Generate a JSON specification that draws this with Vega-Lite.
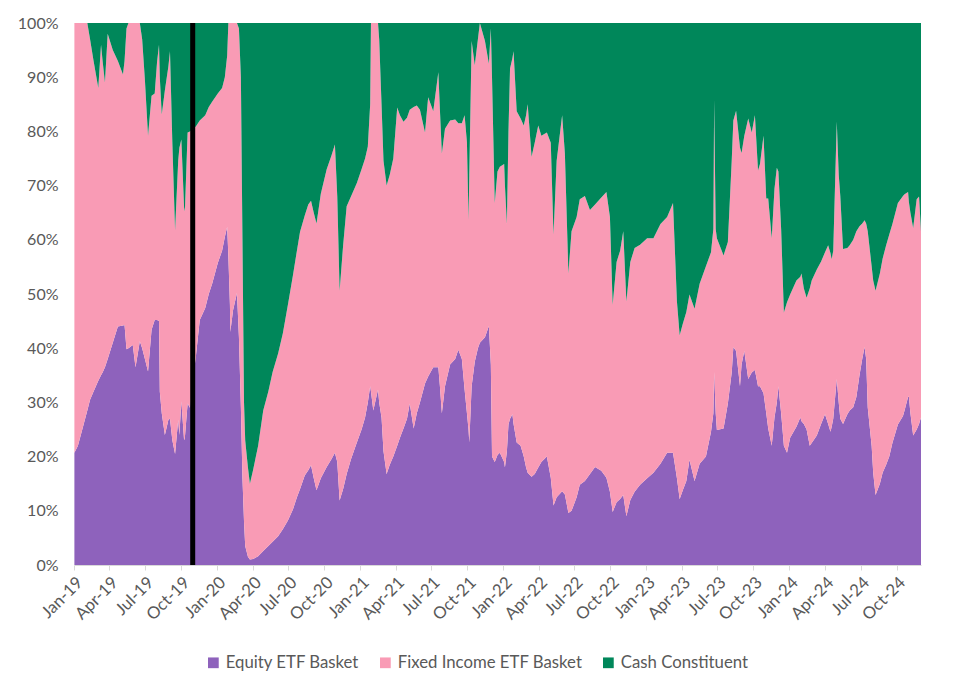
{
"$schema":"https://vega.github.io/schema/vega-lite/v6.json",
"width":847,"height":542,
"autosize":{"type":"none"},
"padding":{"left":74,"top":23,"right":40,"bottom":127},
"background":"white",
"config":{"view":{"stroke":null},"font":"Lato"},
"datasets":{
"seriesinfo":[
{"series":"Equity ETF Basket","o":1},
{"series":"Fixed Income ETF Basket","o":2},
{"series":"Cash Constituent","o":3}
],
"shares":[
{"d":"2019-01-02","Equity ETF Basket":20.7,"Fixed Income ETF Basket":79.3,"Cash Constituent":0},
{"d":"2019-01-11","Equity ETF Basket":22,"Fixed Income ETF Basket":78,"Cash Constituent":0},
{"d":"2019-01-24","Equity ETF Basket":25.5,"Fixed Income ETF Basket":74.5,"Cash Constituent":0},
{"d":"2019-02-04","Equity ETF Basket":28.5,"Fixed Income ETF Basket":71.5,"Cash Constituent":0},
{"d":"2019-02-11","Equity ETF Basket":30.5,"Fixed Income ETF Basket":66.5,"Cash Constituent":3},
{"d":"2019-02-20","Equity ETF Basket":32,"Fixed Income ETF Basket":61,"Cash Constituent":7},
{"d":"2019-03-04","Equity ETF Basket":34,"Fixed Income ETF Basket":54,"Cash Constituent":12},
{"d":"2019-03-11","Equity ETF Basket":35,"Fixed Income ETF Basket":61,"Cash Constituent":4},
{"d":"2019-03-15","Equity ETF Basket":35.5,"Fixed Income ETF Basket":57.5,"Cash Constituent":7},
{"d":"2019-03-21","Equity ETF Basket":36.5,"Fixed Income ETF Basket":52.5,"Cash Constituent":11},
{"d":"2019-03-28","Equity ETF Basket":38,"Fixed Income ETF Basket":60,"Cash Constituent":2},
{"d":"2019-04-10","Equity ETF Basket":41,"Fixed Income ETF Basket":54,"Cash Constituent":5},
{"d":"2019-04-23","Equity ETF Basket":44,"Fixed Income ETF Basket":49,"Cash Constituent":7},
{"d":"2019-05-06","Equity ETF Basket":44.2,"Fixed Income ETF Basket":46.3,"Cash Constituent":9.5},
{"d":"2019-05-10","Equity ETF Basket":44.3,"Fixed Income ETF Basket":48.7,"Cash Constituent":7},
{"d":"2019-05-15","Equity ETF Basket":39.8,"Fixed Income ETF Basket":59.2,"Cash Constituent":1},
{"d":"2019-05-20","Equity ETF Basket":40,"Fixed Income ETF Basket":60,"Cash Constituent":0},
{"d":"2019-05-31","Equity ETF Basket":40.6,"Fixed Income ETF Basket":59.4,"Cash Constituent":0},
{"d":"2019-06-07","Equity ETF Basket":36.5,"Fixed Income ETF Basket":63.5,"Cash Constituent":0},
{"d":"2019-06-18","Equity ETF Basket":41.3,"Fixed Income ETF Basket":58.7,"Cash Constituent":0},
{"d":"2019-06-24","Equity ETF Basket":40,"Fixed Income ETF Basket":57,"Cash Constituent":3},
{"d":"2019-07-01","Equity ETF Basket":38,"Fixed Income ETF Basket":51.5,"Cash Constituent":10.5},
{"d":"2019-07-09","Equity ETF Basket":35.7,"Fixed Income ETF Basket":43.5,"Cash Constituent":20.8},
{"d":"2019-07-18","Equity ETF Basket":43.4,"Fixed Income ETF Basket":43.2,"Cash Constituent":13.4},
{"d":"2019-07-26","Equity ETF Basket":45.2,"Fixed Income ETF Basket":41.8,"Cash Constituent":13},
{"d":"2019-08-01","Equity ETF Basket":45.2,"Fixed Income ETF Basket":47.6,"Cash Constituent":7.2},
{"d":"2019-08-06","Equity ETF Basket":45,"Fixed Income ETF Basket":51,"Cash Constituent":4},
{"d":"2019-08-08","Equity ETF Basket":32,"Fixed Income ETF Basket":58,"Cash Constituent":10},
{"d":"2019-08-13","Equity ETF Basket":28,"Fixed Income ETF Basket":55.1,"Cash Constituent":16.9},
{"d":"2019-08-21","Equity ETF Basket":24,"Fixed Income ETF Basket":63.6,"Cash Constituent":12.4},
{"d":"2019-08-30","Equity ETF Basket":26.8,"Fixed Income ETF Basket":65.2,"Cash Constituent":8},
{"d":"2019-09-03","Equity ETF Basket":27,"Fixed Income ETF Basket":67.8,"Cash Constituent":5.2},
{"d":"2019-09-09","Equity ETF Basket":23,"Fixed Income ETF Basket":55,"Cash Constituent":22},
{"d":"2019-09-16","Equity ETF Basket":20.5,"Fixed Income ETF Basket":41.2,"Cash Constituent":38.3},
{"d":"2019-09-24","Equity ETF Basket":26.8,"Fixed Income ETF Basket":47.8,"Cash Constituent":25.4},
{"d":"2019-09-27","Equity ETF Basket":24,"Fixed Income ETF Basket":53,"Cash Constituent":23},
{"d":"2019-10-02","Equity ETF Basket":30.2,"Fixed Income ETF Basket":48.3,"Cash Constituent":21.5},
{"d":"2019-10-09","Equity ETF Basket":23,"Fixed Income ETF Basket":43,"Cash Constituent":34},
{"d":"2019-10-11","Equity ETF Basket":23.5,"Fixed Income ETF Basket":41.7,"Cash Constituent":34.8},
{"d":"2019-10-18","Equity ETF Basket":29.8,"Fixed Income ETF Basket":50,"Cash Constituent":20.2},
{"d":"2019-10-24","Equity ETF Basket":29,"Fixed Income ETF Basket":51,"Cash Constituent":20},
{"d":"2019-10-31","Equity ETF Basket":34,"Fixed Income ETF Basket":46.5,"Cash Constituent":19.5},
{"d":"2019-11-08","Equity ETF Basket":38.4,"Fixed Income ETF Basket":42.5,"Cash Constituent":19.1},
{"d":"2019-11-18","Equity ETF Basket":45.2,"Fixed Income ETF Basket":36.8,"Cash Constituent":18},
{"d":"2019-12-02","Equity ETF Basket":47.4,"Fixed Income ETF Basket":35.6,"Cash Constituent":17},
{"d":"2019-12-11","Equity ETF Basket":50,"Fixed Income ETF Basket":34.5,"Cash Constituent":15.5},
{"d":"2019-12-20","Equity ETF Basket":52,"Fixed Income ETF Basket":33.5,"Cash Constituent":14.5},
{"d":"2020-01-03","Equity ETF Basket":55.7,"Fixed Income ETF Basket":31.3,"Cash Constituent":13},
{"d":"2020-01-14","Equity ETF Basket":58,"Fixed Income ETF Basket":30,"Cash Constituent":12},
{"d":"2020-01-21","Equity ETF Basket":60.5,"Fixed Income ETF Basket":29.5,"Cash Constituent":10},
{"d":"2020-01-27","Equity ETF Basket":62.4,"Fixed Income ETF Basket":31.6,"Cash Constituent":6},
{"d":"2020-01-30","Equity ETF Basket":57,"Fixed Income ETF Basket":43,"Cash Constituent":0},
{"d":"2020-02-03","Equity ETF Basket":48,"Fixed Income ETF Basket":52,"Cash Constituent":0},
{"d":"2020-02-04","Equity ETF Basket":43,"Fixed Income ETF Basket":57,"Cash Constituent":0},
{"d":"2020-02-11","Equity ETF Basket":47,"Fixed Income ETF Basket":53,"Cash Constituent":0},
{"d":"2020-02-21","Equity ETF Basket":50.2,"Fixed Income ETF Basket":49.8,"Cash Constituent":0},
{"d":"2020-02-26","Equity ETF Basket":42,"Fixed Income ETF Basket":57,"Cash Constituent":1},
{"d":"2020-03-02","Equity ETF Basket":29,"Fixed Income ETF Basket":61,"Cash Constituent":10},
{"d":"2020-03-06","Equity ETF Basket":16,"Fixed Income ETF Basket":44,"Cash Constituent":40},
{"d":"2020-03-10","Equity ETF Basket":8,"Fixed Income ETF Basket":22,"Cash Constituent":70},
{"d":"2020-03-13","Equity ETF Basket":3.5,"Fixed Income ETF Basket":19.5,"Cash Constituent":77},
{"d":"2020-03-20","Equity ETF Basket":1.5,"Fixed Income ETF Basket":16.5,"Cash Constituent":82},
{"d":"2020-03-25","Equity ETF Basket":1,"Fixed Income ETF Basket":14,"Cash Constituent":85},
{"d":"2020-04-02","Equity ETF Basket":1.1,"Fixed Income ETF Basket":16.4,"Cash Constituent":82.5},
{"d":"2020-04-15","Equity ETF Basket":1.6,"Fixed Income ETF Basket":20.4,"Cash Constituent":78},
{"d":"2020-04-28","Equity ETF Basket":2.6,"Fixed Income ETF Basket":25.9,"Cash Constituent":71.5},
{"d":"2020-05-11","Equity ETF Basket":3.5,"Fixed Income ETF Basket":28.5,"Cash Constituent":68},
{"d":"2020-05-22","Equity ETF Basket":4.3,"Fixed Income ETF Basket":31.3,"Cash Constituent":64.4},
{"d":"2020-06-05","Equity ETF Basket":5.3,"Fixed Income ETF Basket":33.7,"Cash Constituent":61},
{"d":"2020-06-17","Equity ETF Basket":6.6,"Fixed Income ETF Basket":36.1,"Cash Constituent":57.3},
{"d":"2020-06-30","Equity ETF Basket":8.2,"Fixed Income ETF Basket":39.8,"Cash Constituent":52},
{"d":"2020-07-13","Equity ETF Basket":10.3,"Fixed Income ETF Basket":43.2,"Cash Constituent":46.5},
{"d":"2020-07-23","Equity ETF Basket":12.5,"Fixed Income ETF Basket":45.5,"Cash Constituent":42},
{"d":"2020-07-31","Equity ETF Basket":14,"Fixed Income ETF Basket":47.5,"Cash Constituent":38.5},
{"d":"2020-08-12","Equity ETF Basket":16.5,"Fixed Income ETF Basket":48,"Cash Constituent":35.5},
{"d":"2020-08-21","Equity ETF Basket":17.5,"Fixed Income ETF Basket":49,"Cash Constituent":33.5},
{"d":"2020-08-28","Equity ETF Basket":18.4,"Fixed Income ETF Basket":48.8,"Cash Constituent":32.8},
{"d":"2020-09-04","Equity ETF Basket":16,"Fixed Income ETF Basket":49,"Cash Constituent":35},
{"d":"2020-09-11","Equity ETF Basket":13.8,"Fixed Income ETF Basket":49.2,"Cash Constituent":37},
{"d":"2020-09-22","Equity ETF Basket":16,"Fixed Income ETF Basket":52.5,"Cash Constituent":31.5},
{"d":"2020-10-07","Equity ETF Basket":18.1,"Fixed Income ETF Basket":54.9,"Cash Constituent":27},
{"d":"2020-10-19","Equity ETF Basket":19.5,"Fixed Income ETF Basket":56,"Cash Constituent":24.5},
{"d":"2020-10-28","Equity ETF Basket":20.7,"Fixed Income ETF Basket":56.9,"Cash Constituent":22.4},
{"d":"2020-11-03","Equity ETF Basket":19,"Fixed Income ETF Basket":49,"Cash Constituent":32},
{"d":"2020-11-09","Equity ETF Basket":11.9,"Fixed Income ETF Basket":38.7,"Cash Constituent":49.4},
{"d":"2020-11-18","Equity ETF Basket":14,"Fixed Income ETF Basket":45,"Cash Constituent":41},
{"d":"2020-11-27","Equity ETF Basket":16.8,"Fixed Income ETF Basket":49.4,"Cash Constituent":33.8},
{"d":"2020-12-08","Equity ETF Basket":19.5,"Fixed Income ETF Basket":48.5,"Cash Constituent":32},
{"d":"2020-12-23","Equity ETF Basket":22.6,"Fixed Income ETF Basket":47.9,"Cash Constituent":29.5},
{"d":"2021-01-04","Equity ETF Basket":25,"Fixed Income ETF Basket":48,"Cash Constituent":27},
{"d":"2021-01-13","Equity ETF Basket":27.2,"Fixed Income ETF Basket":47.8,"Cash Constituent":25},
{"d":"2021-01-20","Equity ETF Basket":30,"Fixed Income ETF Basket":47.2,"Cash Constituent":22.8},
{"d":"2021-01-26","Equity ETF Basket":33,"Fixed Income ETF Basket":52,"Cash Constituent":15},
{"d":"2021-01-28","Equity ETF Basket":32,"Fixed Income ETF Basket":68,"Cash Constituent":0},
{"d":"2021-02-03","Equity ETF Basket":28.5,"Fixed Income ETF Basket":71.5,"Cash Constituent":0},
{"d":"2021-02-15","Equity ETF Basket":32.4,"Fixed Income ETF Basket":67.6,"Cash Constituent":0},
{"d":"2021-02-18","Equity ETF Basket":30,"Fixed Income ETF Basket":67,"Cash Constituent":3},
{"d":"2021-02-24","Equity ETF Basket":27.2,"Fixed Income ETF Basket":57.8,"Cash Constituent":15},
{"d":"2021-03-01","Equity ETF Basket":21,"Fixed Income ETF Basket":53.6,"Cash Constituent":25.4},
{"d":"2021-03-09","Equity ETF Basket":16.8,"Fixed Income ETF Basket":53.2,"Cash Constituent":30},
{"d":"2021-03-17","Equity ETF Basket":18.5,"Fixed Income ETF Basket":53.5,"Cash Constituent":28},
{"d":"2021-03-26","Equity ETF Basket":20,"Fixed Income ETF Basket":55,"Cash Constituent":25},
{"d":"2021-04-05","Equity ETF Basket":22,"Fixed Income ETF Basket":62.4,"Cash Constituent":15.6},
{"d":"2021-04-12","Equity ETF Basket":23.5,"Fixed Income ETF Basket":59.5,"Cash Constituent":17},
{"d":"2021-04-21","Equity ETF Basket":25.2,"Fixed Income ETF Basket":56.6,"Cash Constituent":18.2},
{"d":"2021-04-30","Equity ETF Basket":27,"Fixed Income ETF Basket":55.5,"Cash Constituent":17.5},
{"d":"2021-05-07","Equity ETF Basket":29.8,"Fixed Income ETF Basket":54.2,"Cash Constituent":16},
{"d":"2021-05-17","Equity ETF Basket":25.2,"Fixed Income ETF Basket":59.3,"Cash Constituent":15.5},
{"d":"2021-05-25","Equity ETF Basket":28,"Fixed Income ETF Basket":56.8,"Cash Constituent":15.2},
{"d":"2021-06-02","Equity ETF Basket":30,"Fixed Income ETF Basket":54,"Cash Constituent":16},
{"d":"2021-06-15","Equity ETF Basket":33.5,"Fixed Income ETF Basket":46.3,"Cash Constituent":20.2},
{"d":"2021-06-23","Equity ETF Basket":34.8,"Fixed Income ETF Basket":51.5,"Cash Constituent":13.7},
{"d":"2021-07-06","Equity ETF Basket":36.5,"Fixed Income ETF Basket":47.2,"Cash Constituent":16.3},
{"d":"2021-07-19","Equity ETF Basket":36.5,"Fixed Income ETF Basket":54.4,"Cash Constituent":9.1},
{"d":"2021-07-23","Equity ETF Basket":33,"Fixed Income ETF Basket":51,"Cash Constituent":16},
{"d":"2021-07-28","Equity ETF Basket":28,"Fixed Income ETF Basket":47.9,"Cash Constituent":24.1},
{"d":"2021-08-05","Equity ETF Basket":33,"Fixed Income ETF Basket":47.5,"Cash Constituent":19.5},
{"d":"2021-08-18","Equity ETF Basket":37,"Fixed Income ETF Basket":45,"Cash Constituent":18},
{"d":"2021-08-31","Equity ETF Basket":38,"Fixed Income ETF Basket":44.2,"Cash Constituent":17.8},
{"d":"2021-09-08","Equity ETF Basket":39.7,"Fixed Income ETF Basket":41.8,"Cash Constituent":18.5},
{"d":"2021-09-17","Equity ETF Basket":38,"Fixed Income ETF Basket":43.5,"Cash Constituent":18.5},
{"d":"2021-09-24","Equity ETF Basket":32.4,"Fixed Income ETF Basket":50.6,"Cash Constituent":17},
{"d":"2021-09-30","Equity ETF Basket":28,"Fixed Income ETF Basket":50,"Cash Constituent":22},
{"d":"2021-10-04","Equity ETF Basket":25,"Fixed Income ETF Basket":38.6,"Cash Constituent":36.4},
{"d":"2021-10-06","Equity ETF Basket":22.6,"Fixed Income ETF Basket":49.4,"Cash Constituent":28},
{"d":"2021-10-12","Equity ETF Basket":33,"Fixed Income ETF Basket":63.7,"Cash Constituent":3.3},
{"d":"2021-10-20","Equity ETF Basket":37.5,"Fixed Income ETF Basket":54.7,"Cash Constituent":7.8},
{"d":"2021-10-28","Equity ETF Basket":40,"Fixed Income ETF Basket":57,"Cash Constituent":3},
{"d":"2021-11-02","Equity ETF Basket":41,"Fixed Income ETF Basket":59,"Cash Constituent":0},
{"d":"2021-11-15","Equity ETF Basket":42,"Fixed Income ETF Basket":54.7,"Cash Constituent":3.3},
{"d":"2021-11-25","Equity ETF Basket":44.1,"Fixed Income ETF Basket":48.4,"Cash Constituent":7.5},
{"d":"2021-11-30","Equity ETF Basket":37,"Fixed Income ETF Basket":62,"Cash Constituent":1},
{"d":"2021-12-03","Equity ETF Basket":20,"Fixed Income ETF Basket":70,"Cash Constituent":10},
{"d":"2021-12-10","Equity ETF Basket":19,"Fixed Income ETF Basket":47.8,"Cash Constituent":33.2},
{"d":"2021-12-17","Equity ETF Basket":20.3,"Fixed Income ETF Basket":52.3,"Cash Constituent":27.4},
{"d":"2021-12-23","Equity ETF Basket":20.7,"Fixed Income ETF Basket":52.8,"Cash Constituent":26.5},
{"d":"2022-01-03","Equity ETF Basket":19,"Fixed Income ETF Basket":55,"Cash Constituent":26},
{"d":"2022-01-05","Equity ETF Basket":18,"Fixed Income ETF Basket":52,"Cash Constituent":30},
{"d":"2022-01-10","Equity ETF Basket":21,"Fixed Income ETF Basket":41.9,"Cash Constituent":37.1},
{"d":"2022-01-14","Equity ETF Basket":25.9,"Fixed Income ETF Basket":54.1,"Cash Constituent":20},
{"d":"2022-01-18","Equity ETF Basket":27,"Fixed Income ETF Basket":64.6,"Cash Constituent":8.4},
{"d":"2022-01-24","Equity ETF Basket":27.8,"Fixed Income ETF Basket":65.7,"Cash Constituent":6.5},
{"d":"2022-01-27","Equity ETF Basket":26,"Fixed Income ETF Basket":68.8,"Cash Constituent":5.2},
{"d":"2022-02-04","Equity ETF Basket":22.6,"Fixed Income ETF Basket":61.1,"Cash Constituent":16.3},
{"d":"2022-02-14","Equity ETF Basket":22,"Fixed Income ETF Basket":60.4,"Cash Constituent":17.6},
{"d":"2022-02-22","Equity ETF Basket":20,"Fixed Income ETF Basket":61.1,"Cash Constituent":18.9},
{"d":"2022-02-28","Equity ETF Basket":18,"Fixed Income ETF Basket":65,"Cash Constituent":17},
{"d":"2022-03-04","Equity ETF Basket":17,"Fixed Income ETF Basket":68,"Cash Constituent":15},
{"d":"2022-03-14","Equity ETF Basket":16.3,"Fixed Income ETF Basket":59,"Cash Constituent":24.7},
{"d":"2022-03-22","Equity ETF Basket":16.8,"Fixed Income ETF Basket":61.1,"Cash Constituent":22.1},
{"d":"2022-03-31","Equity ETF Basket":18,"Fixed Income ETF Basket":63.1,"Cash Constituent":18.9},
{"d":"2022-04-08","Equity ETF Basket":19,"Fixed Income ETF Basket":60.2,"Cash Constituent":20.8},
{"d":"2022-04-22","Equity ETF Basket":20,"Fixed Income ETF Basket":59.8,"Cash Constituent":20.2},
{"d":"2022-05-02","Equity ETF Basket":16.1,"Fixed Income ETF Basket":61.8,"Cash Constituent":22.1},
{"d":"2022-05-09","Equity ETF Basket":11,"Fixed Income ETF Basket":50,"Cash Constituent":39},
{"d":"2022-05-17","Equity ETF Basket":12.5,"Fixed Income ETF Basket":62.1,"Cash Constituent":25.4},
{"d":"2022-05-31","Equity ETF Basket":13.6,"Fixed Income ETF Basket":69.4,"Cash Constituent":17},
{"d":"2022-06-07","Equity ETF Basket":13,"Fixed Income ETF Basket":62.9,"Cash Constituent":24.1},
{"d":"2022-06-16","Equity ETF Basket":9.6,"Fixed Income ETF Basket":44.2,"Cash Constituent":46.2},
{"d":"2022-06-24","Equity ETF Basket":10,"Fixed Income ETF Basket":51.6,"Cash Constituent":38.4},
{"d":"2022-07-07","Equity ETF Basket":12.5,"Fixed Income ETF Basket":51.7,"Cash Constituent":35.8},
{"d":"2022-07-15","Equity ETF Basket":14.8,"Fixed Income ETF Basket":52.7,"Cash Constituent":32.5},
{"d":"2022-07-28","Equity ETF Basket":15.5,"Fixed Income ETF Basket":52.6,"Cash Constituent":31.9},
{"d":"2022-08-10","Equity ETF Basket":16.8,"Fixed Income ETF Basket":48.7,"Cash Constituent":34.5},
{"d":"2022-08-23","Equity ETF Basket":18.1,"Fixed Income ETF Basket":48.4,"Cash Constituent":33.5},
{"d":"2022-09-08","Equity ETF Basket":17.4,"Fixed Income ETF Basket":50.4,"Cash Constituent":32.2},
{"d":"2022-09-21","Equity ETF Basket":16.1,"Fixed Income ETF Basket":52.7,"Cash Constituent":31.2},
{"d":"2022-09-30","Equity ETF Basket":13.5,"Fixed Income ETF Basket":50.7,"Cash Constituent":35.8},
{"d":"2022-10-07","Equity ETF Basket":9.8,"Fixed Income ETF Basket":38.2,"Cash Constituent":52},
{"d":"2022-10-17","Equity ETF Basket":11.6,"Fixed Income ETF Basket":44.3,"Cash Constituent":44.1},
{"d":"2022-10-26","Equity ETF Basket":12.2,"Fixed Income ETF Basket":45.8,"Cash Constituent":42},
{"d":"2022-11-03","Equity ETF Basket":12.9,"Fixed Income ETF Basket":48.7,"Cash Constituent":38.4},
{"d":"2022-11-11","Equity ETF Basket":9,"Fixed Income ETF Basket":39.6,"Cash Constituent":51.4},
{"d":"2022-11-21","Equity ETF Basket":12,"Fixed Income ETF Basket":43.9,"Cash Constituent":44.1},
{"d":"2022-12-02","Equity ETF Basket":13.5,"Fixed Income ETF Basket":45,"Cash Constituent":41.5},
{"d":"2022-12-16","Equity ETF Basket":14.8,"Fixed Income ETF Basket":44.3,"Cash Constituent":40.9},
{"d":"2023-01-03","Equity ETF Basket":16,"Fixed Income ETF Basket":44.3,"Cash Constituent":39.7},
{"d":"2023-01-19","Equity ETF Basket":17,"Fixed Income ETF Basket":43.3,"Cash Constituent":39.7},
{"d":"2023-02-06","Equity ETF Basket":18.7,"Fixed Income ETF Basket":44.2,"Cash Constituent":37.1},
{"d":"2023-02-23","Equity ETF Basket":20.7,"Fixed Income ETF Basket":43.5,"Cash Constituent":35.8},
{"d":"2023-03-10","Equity ETF Basket":20.7,"Fixed Income ETF Basket":46.1,"Cash Constituent":33.2},
{"d":"2023-03-20","Equity ETF Basket":16,"Fixed Income ETF Basket":32.6,"Cash Constituent":51.4},
{"d":"2023-03-27","Equity ETF Basket":12.2,"Fixed Income ETF Basket":30.2,"Cash Constituent":57.6},
{"d":"2023-04-04","Equity ETF Basket":13.8,"Fixed Income ETF Basket":30.7,"Cash Constituent":55.5},
{"d":"2023-04-13","Equity ETF Basket":15.5,"Fixed Income ETF Basket":31.2,"Cash Constituent":53.3},
{"d":"2023-04-21","Equity ETF Basket":19.4,"Fixed Income ETF Basket":30.5,"Cash Constituent":50.1},
{"d":"2023-05-04","Equity ETF Basket":15.5,"Fixed Income ETF Basket":31.8,"Cash Constituent":52.7},
{"d":"2023-05-17","Equity ETF Basket":18.7,"Fixed Income ETF Basket":33.2,"Cash Constituent":48.1},
{"d":"2023-06-02","Equity ETF Basket":20,"Fixed Income ETF Basket":35.1,"Cash Constituent":44.9},
{"d":"2023-06-15","Equity ETF Basket":24.6,"Fixed Income ETF Basket":33.1,"Cash Constituent":42.3},
{"d":"2023-06-21","Equity ETF Basket":28,"Fixed Income ETF Basket":34,"Cash Constituent":38},
{"d":"2023-06-23","Equity ETF Basket":35.6,"Fixed Income ETF Basket":50.2,"Cash Constituent":14.2},
{"d":"2023-06-27","Equity ETF Basket":28,"Fixed Income ETF Basket":34,"Cash Constituent":38},
{"d":"2023-06-30","Equity ETF Basket":24.9,"Fixed Income ETF Basket":35.4,"Cash Constituent":39.7},
{"d":"2023-07-17","Equity ETF Basket":25.2,"Fixed Income ETF Basket":31.9,"Cash Constituent":42.9},
{"d":"2023-07-28","Equity ETF Basket":29.8,"Fixed Income ETF Basket":29.8,"Cash Constituent":40.4},
{"d":"2023-08-07","Equity ETF Basket":35.6,"Fixed Income ETF Basket":39.2,"Cash Constituent":25.2},
{"d":"2023-08-11","Equity ETF Basket":40.2,"Fixed Income ETF Basket":41.8,"Cash Constituent":18},
{"d":"2023-08-18","Equity ETF Basket":39.5,"Fixed Income ETF Basket":44.3,"Cash Constituent":16.2},
{"d":"2023-08-28","Equity ETF Basket":33,"Fixed Income ETF Basket":44,"Cash Constituent":23},
{"d":"2023-09-01","Equity ETF Basket":37,"Fixed Income ETF Basket":39,"Cash Constituent":24},
{"d":"2023-09-08","Equity ETF Basket":39.5,"Fixed Income ETF Basket":39.7,"Cash Constituent":20.8},
{"d":"2023-09-18","Equity ETF Basket":34.3,"Fixed Income ETF Basket":48.1,"Cash Constituent":17.6},
{"d":"2023-09-27","Equity ETF Basket":35.5,"Fixed Income ETF Basket":44.3,"Cash Constituent":20.2},
{"d":"2023-10-05","Equity ETF Basket":36,"Fixed Income ETF Basket":47,"Cash Constituent":17},
{"d":"2023-10-13","Equity ETF Basket":33,"Fixed Income ETF Basket":39.8,"Cash Constituent":27.2},
{"d":"2023-10-18","Equity ETF Basket":33,"Fixed Income ETF Basket":41,"Cash Constituent":26},
{"d":"2023-10-27","Equity ETF Basket":31.7,"Fixed Income ETF Basket":47.5,"Cash Constituent":20.8},
{"d":"2023-11-03","Equity ETF Basket":28,"Fixed Income ETF Basket":39.6,"Cash Constituent":32.4},
{"d":"2023-11-08","Equity ETF Basket":25.2,"Fixed Income ETF Basket":42.4,"Cash Constituent":32.4},
{"d":"2023-11-17","Equity ETF Basket":22,"Fixed Income ETF Basket":38.3,"Cash Constituent":39.7},
{"d":"2023-11-24","Equity ETF Basket":27.2,"Fixed Income ETF Basket":42.2,"Cash Constituent":30.6},
{"d":"2023-11-30","Equity ETF Basket":30,"Fixed Income ETF Basket":43.3,"Cash Constituent":26.7},
{"d":"2023-12-04","Equity ETF Basket":33,"Fixed Income ETF Basket":39.6,"Cash Constituent":27.4},
{"d":"2023-12-11","Equity ETF Basket":28,"Fixed Income ETF Basket":34,"Cash Constituent":38},
{"d":"2023-12-18","Equity ETF Basket":22,"Fixed Income ETF Basket":24.6,"Cash Constituent":53.4},
{"d":"2023-12-26","Equity ETF Basket":20.7,"Fixed Income ETF Basket":27.8,"Cash Constituent":51.5},
{"d":"2024-01-03","Equity ETF Basket":23.5,"Fixed Income ETF Basket":26.4,"Cash Constituent":50.1},
{"d":"2024-01-19","Equity ETF Basket":25.5,"Fixed Income ETF Basket":27,"Cash Constituent":47.5},
{"d":"2024-01-29","Equity ETF Basket":27.2,"Fixed Income ETF Basket":26,"Cash Constituent":46.8},
{"d":"2024-02-01","Equity ETF Basket":26.5,"Fixed Income ETF Basket":27.3,"Cash Constituent":46.2},
{"d":"2024-02-07","Equity ETF Basket":26,"Fixed Income ETF Basket":25,"Cash Constituent":49},
{"d":"2024-02-14","Equity ETF Basket":25,"Fixed Income ETF Basket":24.3,"Cash Constituent":50.7},
{"d":"2024-02-22","Equity ETF Basket":22,"Fixed Income ETF Basket":29,"Cash Constituent":49},
{"d":"2024-02-27","Equity ETF Basket":22.5,"Fixed Income ETF Basket":30,"Cash Constituent":47.5},
{"d":"2024-03-11","Equity ETF Basket":23.9,"Fixed Income ETF Basket":30.6,"Cash Constituent":45.5},
{"d":"2024-03-22","Equity ETF Basket":26,"Fixed Income ETF Basket":30,"Cash Constituent":44},
{"d":"2024-04-01","Equity ETF Basket":27.8,"Fixed Income ETF Basket":29.9,"Cash Constituent":42.3},
{"d":"2024-04-09","Equity ETF Basket":26,"Fixed Income ETF Basket":33,"Cash Constituent":41},
{"d":"2024-04-15","Equity ETF Basket":24.6,"Fixed Income ETF Basket":32.9,"Cash Constituent":42.5},
{"d":"2024-04-18","Equity ETF Basket":25.5,"Fixed Income ETF Basket":30.9,"Cash Constituent":43.6},
{"d":"2024-04-22","Equity ETF Basket":27,"Fixed Income ETF Basket":31,"Cash Constituent":42},
{"d":"2024-05-01","Equity ETF Basket":34.3,"Fixed Income ETF Basket":47.5,"Cash Constituent":18.2},
{"d":"2024-05-06","Equity ETF Basket":30,"Fixed Income ETF Basket":42,"Cash Constituent":28},
{"d":"2024-05-10","Equity ETF Basket":27,"Fixed Income ETF Basket":41.1,"Cash Constituent":31.9},
{"d":"2024-05-17","Equity ETF Basket":26,"Fixed Income ETF Basket":32.3,"Cash Constituent":41.7},
{"d":"2024-05-28","Equity ETF Basket":27.8,"Fixed Income ETF Basket":30.7,"Cash Constituent":41.5},
{"d":"2024-06-03","Equity ETF Basket":28.5,"Fixed Income ETF Basket":30.5,"Cash Constituent":41},
{"d":"2024-06-12","Equity ETF Basket":29.1,"Fixed Income ETF Basket":30.9,"Cash Constituent":40},
{"d":"2024-06-20","Equity ETF Basket":31,"Fixed Income ETF Basket":30.6,"Cash Constituent":38.4},
{"d":"2024-06-28","Equity ETF Basket":35,"Fixed Income ETF Basket":27.5,"Cash Constituent":37.5},
{"d":"2024-07-05","Equity ETF Basket":38,"Fixed Income ETF Basket":25,"Cash Constituent":37},
{"d":"2024-07-11","Equity ETF Basket":40.2,"Fixed Income ETF Basket":23.4,"Cash Constituent":36.4},
{"d":"2024-07-15","Equity ETF Basket":38,"Fixed Income ETF Basket":25,"Cash Constituent":37},
{"d":"2024-07-19","Equity ETF Basket":29.1,"Fixed Income ETF Basket":32.5,"Cash Constituent":38.4},
{"d":"2024-07-29","Equity ETF Basket":22,"Fixed Income ETF Basket":33.1,"Cash Constituent":44.9},
{"d":"2024-08-02","Equity ETF Basket":17,"Fixed Income ETF Basket":35.5,"Cash Constituent":47.5},
{"d":"2024-08-08","Equity ETF Basket":12.9,"Fixed Income ETF Basket":37.7,"Cash Constituent":49.4},
{"d":"2024-08-19","Equity ETF Basket":15,"Fixed Income ETF Basket":38.8,"Cash Constituent":46.2},
{"d":"2024-08-26","Equity ETF Basket":17,"Fixed Income ETF Basket":39.5,"Cash Constituent":43.5},
{"d":"2024-09-04","Equity ETF Basket":18.5,"Fixed Income ETF Basket":40.5,"Cash Constituent":41},
{"d":"2024-09-12","Equity ETF Basket":20,"Fixed Income ETF Basket":41,"Cash Constituent":39},
{"d":"2024-09-20","Equity ETF Basket":22.5,"Fixed Income ETF Basket":40.4,"Cash Constituent":37.1},
{"d":"2024-10-04","Equity ETF Basket":25.9,"Fixed Income ETF Basket":40.9,"Cash Constituent":33.2},
{"d":"2024-10-17","Equity ETF Basket":27.5,"Fixed Income ETF Basket":40.6,"Cash Constituent":31.9},
{"d":"2024-10-21","Equity ETF Basket":28.5,"Fixed Income ETF Basket":39.9,"Cash Constituent":31.6},
{"d":"2024-10-30","Equity ETF Basket":31,"Fixed Income ETF Basket":37.8,"Cash Constituent":31.2},
{"d":"2024-11-01","Equity ETF Basket":31.1,"Fixed Income ETF Basket":35.9,"Cash Constituent":33},
{"d":"2024-11-05","Equity ETF Basket":28,"Fixed Income ETF Basket":37,"Cash Constituent":35},
{"d":"2024-11-12","Equity ETF Basket":23.9,"Fixed Income ETF Basket":38.3,"Cash Constituent":37.8},
{"d":"2024-11-21","Equity ETF Basket":25,"Fixed Income ETF Basket":42.5,"Cash Constituent":32.5},
{"d":"2024-11-27","Equity ETF Basket":26,"Fixed Income ETF Basket":42,"Cash Constituent":32},
{"d":"2024-12-02","Equity ETF Basket":27.2,"Fixed Income ETF Basket":34.4,"Cash Constituent":38.4}
],
"marker":[{"d":"2019-10-31"}]
},
"layer":[
{
"data":{"name":"shares"},
"transform":[
{"fold":["Equity ETF Basket","Fixed Income ETF Basket","Cash Constituent"],"as":["series","pct"]},
{"lookup":"series","from":{"data":{"name":"seriesinfo"},"key":"series","fields":["o"]}}
],
"mark":{"type":"area","interpolate":"linear"},
"encoding":{
"x":{"field":"d","type":"temporal",
"scale":{"type":"utc","domain":[{"year":2019,"month":1,"date":1,"utc":true},{"year":2024,"month":12,"date":2,"utc":true}]},
"axis":{"title":null,"format":"%b-%y","tickCount":{"interval":"month","step":3},"labelAngle":-45,"labelAlign":"right","labelBaseline":"top","labelFontSize":16.75,"labelColor":"#595959","labelPadding":4,"labelFlush":false,"labelOverlap":false,"labelBound":false,"grid":false,"tickSize":5,"tickColor":"#D9D9D9","domainColor":"#D9D9D9","domainWidth":1}},
"y":{"field":"pct","type":"quantitative","stack":"zero",
"scale":{"domain":[0,100],"nice":false},
"axis":{"title":null,"values":[0,10,20,30,40,50,60,70,80,90,100],"labelExpr":"datum.value + '%'","domain":false,"ticks":false,"grid":false,"labelFontSize":16,"labelColor":"#595959","labelPadding":16}},
"order":{"field":"o","type":"quantitative","sort":"ascending"},
"color":{"field":"series","type":"nominal","sort":["Equity ETF Basket","Fixed Income ETF Basket","Cash Constituent"],
"scale":{"domain":["Equity ETF Basket","Fixed Income ETF Basket","Cash Constituent"],"range":["#8E62BC","#F99BB5","#00875A"]},
"legend":{"title":null,"orient":"none","legendX":131,"legendY":631,"direction":"horizontal","symbolType":"square","symbolSize":115,"symbolStrokeWidth":0,"labelFontSize":16.75,"labelColor":"#595959","labelLimit":400,"columnPadding":17,"labelOffset":4}}
}
},
{
"data":{"name":"marker"},
"mark":{"type":"rule","color":"black","strokeWidth":5},
"encoding":{"x":{"field":"d","type":"temporal"}}
}
]
}
